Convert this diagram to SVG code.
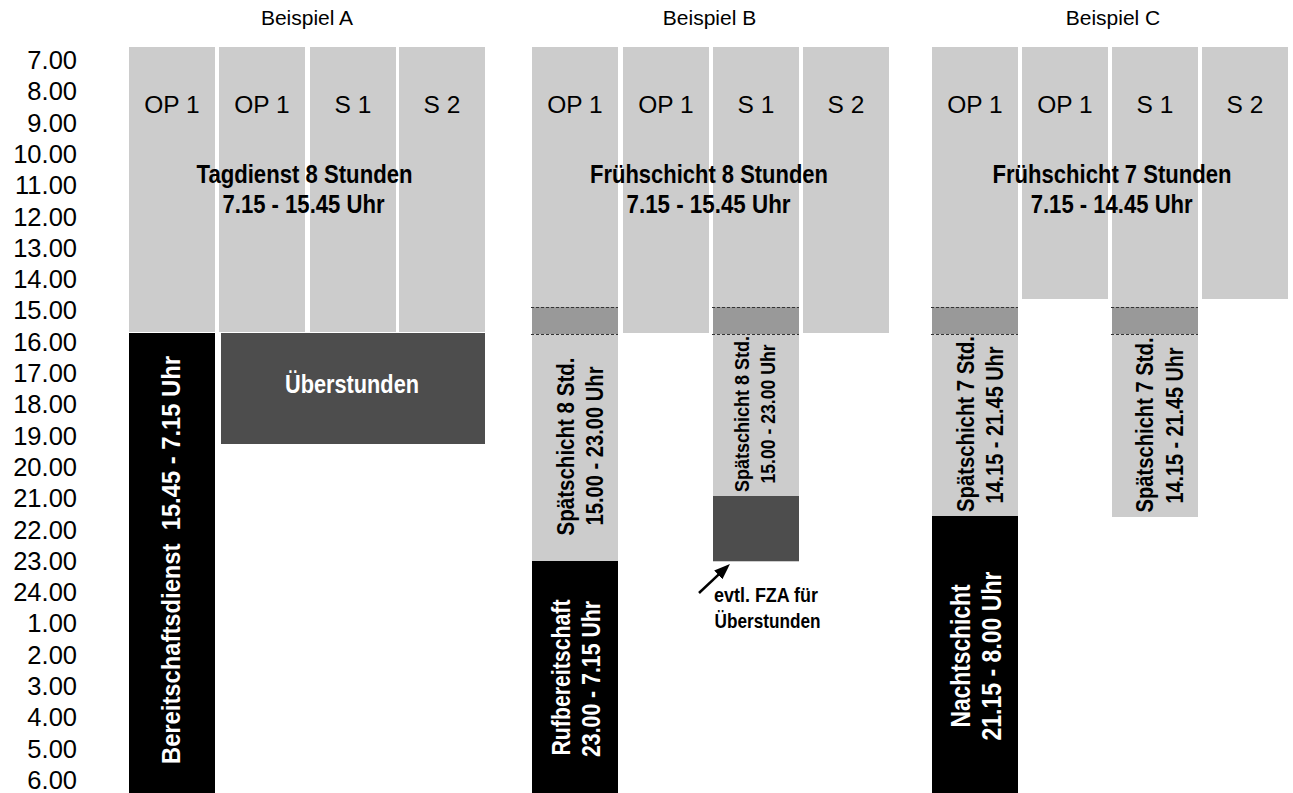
<svg xmlns="http://www.w3.org/2000/svg" width="1293" height="793" viewBox="0 0 1293 793">
  <style>
    text { font-family: "Liberation Sans", Arial, sans-serif; }
    .t { font-size: 25.5px; fill: #000; text-anchor: end; }
    .hd { font-size: 21px; fill: #000; text-anchor: middle; }
    .col { font-size: 24.5px; fill: #000; text-anchor: middle; }
    .bd { font-weight: bold; text-anchor: middle; }
    .w { fill: #ffffff; }
    .k { fill: #000000; }
    .lg { fill: #cccccc; }
    .mg { fill: #999999; }
    .dg { fill: #4d4d4d; }
    .blk { fill: #000000; }
    .dash { stroke: #333333; stroke-width: 1; stroke-dasharray: 3 2; fill: none; }
  </style>
  <defs>
    <marker id="ah" markerUnits="userSpaceOnUse" markerWidth="16" markerHeight="12" refX="4" refY="6" orient="auto">
      <path d="M0,0 L16,6 L0,12 z" fill="#000"/>
    </marker>
  </defs>
  <rect width="1293" height="793" fill="#ffffff"/>

  <g id="timeaxis">
    <text class="t" x="77" y="69">7.00</text>
    <text class="t" x="77" y="100.3">8.00</text>
    <text class="t" x="77" y="131.6">9.00</text>
    <text class="t" x="77" y="162.9">10.00</text>
    <text class="t" x="77" y="194.2">11.00</text>
    <text class="t" x="77" y="225.5">12.00</text>
    <text class="t" x="77" y="256.8">13.00</text>
    <text class="t" x="77" y="288.1">14.00</text>
    <text class="t" x="77" y="319.4">15.00</text>
    <text class="t" x="77" y="350.7">16.00</text>
    <text class="t" x="77" y="382">17.00</text>
    <text class="t" x="77" y="413.3">18.00</text>
    <text class="t" x="77" y="444.6">19.00</text>
    <text class="t" x="77" y="475.9">20.00</text>
    <text class="t" x="77" y="507.2">21.00</text>
    <text class="t" x="77" y="538.5">22.00</text>
    <text class="t" x="77" y="569.8">23.00</text>
    <text class="t" x="77" y="601.1">24.00</text>
    <text class="t" x="77" y="632.4">1.00</text>
    <text class="t" x="77" y="663.7">2.00</text>
    <text class="t" x="77" y="695">3.00</text>
    <text class="t" x="77" y="726.3">4.00</text>
    <text class="t" x="77" y="757.6">5.00</text>
    <text class="t" x="77" y="788.9">6.00</text>
  </g>

  <!-- Beispiel A -->
  <g id="beispielA">
    <text class="hd" x="307" y="25">Beispiel A</text>
    <g id="A-col1">
      <rect class="lg" x="129" y="47" width="86" height="285"/>
      <text class="col" x="172" y="113">OP 1</text>
    </g>
    <g id="A-col2">
      <rect class="lg" x="219" y="47" width="86" height="285"/>
      <text class="col" x="262" y="113">OP 1</text>
    </g>
    <g id="A-col3">
      <rect class="lg" x="310" y="47" width="86" height="285"/>
      <text class="col" x="353" y="113">S 1</text>
    </g>
    <g id="A-col4">
      <rect class="lg" x="399" y="47" width="86" height="285"/>
      <text class="col" x="442" y="113">S 2</text>
    </g>
    <g id="A-tagdienst">
      <text class="bd k" x="304.5" y="183" font-size="26" textLength="216" lengthAdjust="spacingAndGlyphs">Tagdienst 8 Stunden</text>
      <text class="bd k" x="303.5" y="213" font-size="26" textLength="162" lengthAdjust="spacingAndGlyphs">7.15 - 15.45 Uhr</text>
    </g>
    <g id="A-bereitschaft">
      <rect class="blk" x="129" y="333" width="86" height="460"/>
      <text class="bd w" transform="translate(180,560) rotate(-90)" font-size="26" textLength="408" lengthAdjust="spacingAndGlyphs">Bereitschaftsdienst &#160;15.45 - 7.15 Uhr</text>
    </g>
    <g id="A-ueberstunden">
      <rect class="dg" x="221" y="333" width="264" height="111"/>
      <text class="bd w" x="352" y="393" font-size="25" textLength="134" lengthAdjust="spacingAndGlyphs">Überstunden</text>
    </g>
  </g>

  <!-- Beispiel B -->
  <g id="beispielB">
    <text class="hd" x="709.5" y="25">Beispiel B</text>
    <g id="B-col1">
      <rect class="lg" x="532" y="47" width="86" height="514"/>
      <rect class="mg" x="532" y="307" width="86" height="27"/>
      <line class="dash" x1="531" y1="307.5" x2="618" y2="307.5"/>
      <line class="dash" x1="531" y1="334.5" x2="618" y2="334.5"/>
      <text class="col" x="575" y="113">OP 1</text>
      <text class="bd k" transform="translate(574,446.5) rotate(-90)" font-size="24" textLength="178" lengthAdjust="spacingAndGlyphs">Spätschicht 8 Std.</text>
      <text class="bd k" transform="translate(603,446) rotate(-90)" font-size="24" textLength="159" lengthAdjust="spacingAndGlyphs">15.00 - 23.00 Uhr</text>
    </g>
    <g id="B-rufbereitschaft">
      <rect class="blk" x="532" y="561" width="86" height="232"/>
      <text class="bd w" transform="translate(570,677.5) rotate(-90)" font-size="25" textLength="156" lengthAdjust="spacingAndGlyphs">Rufbereitschaft</text>
      <text class="bd w" transform="translate(600,679) rotate(-90)" font-size="25" textLength="156" lengthAdjust="spacingAndGlyphs">23.00 - 7.15 Uhr</text>
    </g>
    <g id="B-col2">
      <rect class="lg" x="623" y="47" width="86" height="286"/>
      <text class="col" x="666" y="113">OP 1</text>
    </g>
    <g id="B-col3">
      <rect class="lg" x="713" y="47" width="86" height="515"/>
      <rect class="mg" x="713" y="307" width="86" height="27"/>
      <line class="dash" x1="712" y1="307.5" x2="799" y2="307.5"/>
      <line class="dash" x1="712" y1="334.5" x2="799" y2="334.5"/>
      <text class="col" x="756" y="113">S 1</text>
      <text class="bd k" transform="translate(749,414) rotate(-90)" font-size="21" textLength="156" lengthAdjust="spacingAndGlyphs">Spätschicht 8 Std.</text>
      <text class="bd k" transform="translate(775,414) rotate(-90)" font-size="21" textLength="139" lengthAdjust="spacingAndGlyphs">15.00 - 23.00 Uhr</text>
    </g>
    <g id="B-fza">
      <rect class="dg" x="713" y="496" width="86" height="65"/>
      <text class="k" x="714" y="601.7" font-size="21" font-weight="bold" textLength="104" lengthAdjust="spacingAndGlyphs">evtl. FZA für</text>
      <text class="k" x="714.5" y="628.3" font-size="21" font-weight="bold" textLength="106" lengthAdjust="spacingAndGlyphs">Überstunden</text>
    </g>
    <g id="B-col4">
      <rect class="lg" x="803" y="47" width="86" height="286"/>
      <text class="col" x="846" y="113">S 2</text>
    </g>
    <g id="B-fruehschicht">
      <text class="bd k" x="709" y="183" font-size="26" textLength="238" lengthAdjust="spacingAndGlyphs">Frühschicht 8 Stunden</text>
      <text class="bd k" x="708.5" y="213" font-size="26" textLength="164" lengthAdjust="spacingAndGlyphs">7.15 - 15.45 Uhr</text>
    </g>
  </g>

  <!-- Beispiel C -->
  <g id="beispielC">
    <text class="hd" x="1113" y="25">Beispiel C</text>
    <g id="C-col1">
      <rect class="lg" x="932" y="47" width="86" height="469"/>
      <rect class="mg" x="932" y="307" width="86" height="27"/>
      <line class="dash" x1="931" y1="307.5" x2="1018" y2="307.5"/>
      <line class="dash" x1="931" y1="334.5" x2="1018" y2="334.5"/>
      <text class="col" x="975" y="113">OP 1</text>
      <text class="bd k" transform="translate(974,424) rotate(-90)" font-size="24" textLength="176" lengthAdjust="spacingAndGlyphs">Spätschicht 7 Std.</text>
      <text class="bd k" transform="translate(1003,425) rotate(-90)" font-size="24" textLength="157" lengthAdjust="spacingAndGlyphs">14.15 - 21.45 Uhr</text>
    </g>
    <g id="C-nachtschicht">
      <rect class="blk" x="932" y="516" width="86" height="277"/>
      <text class="bd w" transform="translate(969.5,656) rotate(-90)" font-size="27" textLength="143" lengthAdjust="spacingAndGlyphs">Nachtschicht</text>
      <text class="bd w" transform="translate(1001,656) rotate(-90)" font-size="27" textLength="169" lengthAdjust="spacingAndGlyphs">21.15 - 8.00 Uhr</text>
    </g>
    <g id="C-col2">
      <rect class="lg" x="1022" y="47" width="86" height="252"/>
      <text class="col" x="1065" y="113">OP 1</text>
    </g>
    <g id="C-col3">
      <rect class="lg" x="1112" y="47" width="86" height="470"/>
      <rect class="mg" x="1112" y="307" width="86" height="27"/>
      <line class="dash" x1="1111" y1="307.5" x2="1198" y2="307.5"/>
      <line class="dash" x1="1111" y1="334.5" x2="1198" y2="334.5"/>
      <text class="col" x="1155" y="113">S 1</text>
      <text class="bd k" transform="translate(1153,425) rotate(-90)" font-size="24" textLength="175" lengthAdjust="spacingAndGlyphs">Spätschicht 7 Std.</text>
      <text class="bd k" transform="translate(1183,425.5) rotate(-90)" font-size="24" textLength="156" lengthAdjust="spacingAndGlyphs">14.15 - 21.45 Uhr</text>
    </g>
    <g id="C-col4">
      <rect class="lg" x="1202" y="47" width="86" height="252"/>
      <text class="col" x="1245" y="113">S 2</text>
    </g>
    <g id="C-fruehschicht">
      <text class="bd k" x="1112" y="183" font-size="26" textLength="239" lengthAdjust="spacingAndGlyphs">Frühschicht 7 Stunden</text>
      <text class="bd k" x="1111.7" y="213" font-size="26" textLength="162" lengthAdjust="spacingAndGlyphs">7.15 - 14.45 Uhr</text>
    </g>
  </g>

  <g id="connectors">
    <line x1="699" y1="593" x2="721.2" y2="572.2" stroke="#000" stroke-width="2.5" marker-end="url(#ah)"/>
  </g>
</svg>
